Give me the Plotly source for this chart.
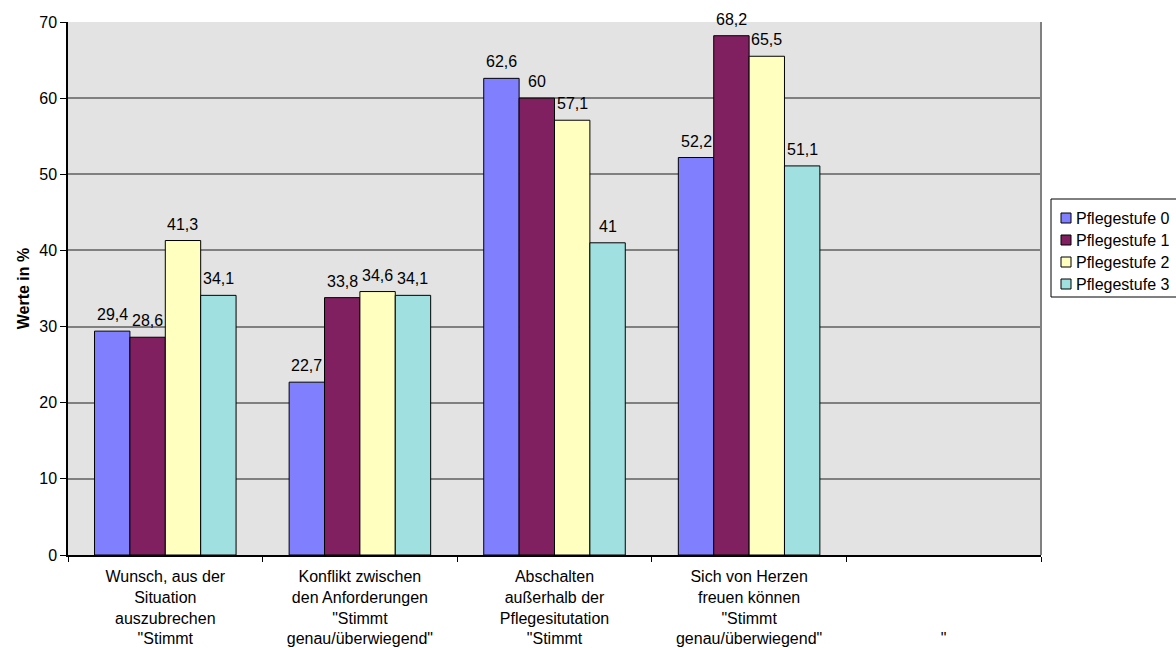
import plotly.graph_objects as go

# Survey categories (label lines as printed under the axis)
categories = ["Wunsch", "Konflikt", "Abschalten", "Herzen", "Leer"]
category_labels = [
    "Wunsch, aus der<br>Situation<br>auszubrechen<br>\"Stimmt",
    "Konflikt zwischen<br>den Anforderungen<br>\"Stimmt<br>genau/überwiegend\"",
    "Abschalten<br>außerhalb der<br>Pflegesitutation<br>\"Stimmt",
    "Sich von Herzen<br>freuen können<br>\"Stimmt<br>genau/überwiegend\"",
    "\u00a0<br>\u00a0<br>\u00a0<br>\"",
]

series_names = ["Pflegestufe 0", "Pflegestufe 1", "Pflegestufe 2", "Pflegestufe 3"]
pflegestufe_0 = [29.4, 22.7, 62.6, 52.2, None]
pflegestufe_1 = [28.6, 33.8, 60.0, 68.2, None]
pflegestufe_2 = [41.3, 34.6, 57.1, 65.5, None]
pflegestufe_3 = [34.1, 34.1, 41.0, 51.1, None]
series_values = [pflegestufe_0, pflegestufe_1, pflegestufe_2, pflegestufe_3]

y_ticks = [0, 10, 20, 30, 40, 50, 60, 70]

colors = ["#8080FF", "#802060", "#FFFFC0", "#A0E0E0"]
FONT = "Arial, Liberation Sans, sans-serif"

W, H = 1176, 648
M_L, M_R, M_T, M_B = 68, 135, 22, 93
PW, PH = W - M_L - M_R, H - M_T - M_B
BARGAP = 0.2727
BAR_PX = PW / len(categories) * (1 - BARGAP) / len(series_names)


def paper_x(px):
    return (px - M_L) / PW


def paper_y(py):
    return (H - M_B - py) / PH


def fmt(v):
    s = f"{v:.1f}".replace(".", ",")
    return s[:-2] if s.endswith(",0") else s


fig = go.Figure()
annotations = []
for i, (name, vals, col) in enumerate(zip(series_names, series_values, colors)):
    fig.add_trace(go.Bar(
        x=categories, y=vals, name=name,
        marker=dict(color=col, line=dict(color="black", width=1)),
        showlegend=False, hoverinfo="x+y+name",
    ))
    # value labels above each bar
    for cat, v in zip(categories, vals):
        if v is None:
            continue
        annotations.append(dict(
            x=cat, y=v, xref="x", yref="y", text=fmt(v), showarrow=False,
            xanchor="center", yanchor="bottom",
            xshift=(i - (len(series_names) - 1) / 2) * BAR_PX, yshift=6,
            font=dict(family=FONT, size=16, color="black"),
        ))

# Legend box drawn as a frame with colour swatches and names
shapes = [
    dict(type="rect", xref="paper", yref="paper",
         x0=paper_x(1051), x1=paper_x(1200), y0=paper_y(297), y1=paper_y(199),
         line=dict(color="black", width=1), fillcolor="white", layer="above"),
    # right border of the plot area
    dict(type="line", xref="paper", yref="paper", x0=1, x1=1, y0=0, y1=1,
         line=dict(color="#808080", width=2), layer="below"),
]
for i, (name, col) in enumerate(zip(series_names, colors)):
    cy = 218 + 22 * i
    shapes.append(dict(type="rect", xref="paper", yref="paper",
                       x0=paper_x(1061), x1=paper_x(1071),
                       y0=paper_y(cy + 5), y1=paper_y(cy - 5),
                       line=dict(color="black", width=1), fillcolor=col,
                       layer="above"))
    annotations.append(dict(xref="paper", yref="paper", x=paper_x(1074),
                            y=paper_y(cy), xanchor="left", yanchor="middle",
                            text=name, showarrow=False,
                            font=dict(family=FONT, size=16, color="black")))

fig.update_layout(
    template="none",
    width=W, height=H,
    margin=dict(l=M_L, r=M_R, t=M_T, b=M_B, pad=0),
    paper_bgcolor="white",
    plot_bgcolor="#E3E3E3",
    barmode="group", bargap=BARGAP, bargroupgap=0,
    separators=",.",
    font=dict(family=FONT, size=16, color="black"),
    shapes=shapes,
    annotations=annotations,
    showlegend=False,
    xaxis=dict(
        type="category",
        tickmode="array", tickvals=categories, ticktext=category_labels,
        tickson="boundaries", ticks="outside", ticklen=5, tickcolor="black",
        showline=True, linecolor="black", linewidth=1.5,
        showgrid=False, automargin=False,
        tickfont=dict(family=FONT, size=16, color="black"),
        ticklabelstandoff=6,
    ),
    yaxis=dict(
        range=[0, 70], tickvals=y_ticks, ticks="outside", ticklen=6,
        tickcolor="black", showline=True, linecolor="black", linewidth=1.5,
        showgrid=True, gridcolor="#808080", gridwidth=1.5,
        zeroline=False, automargin=False,
        tickfont=dict(family=FONT, size=16, color="black"),
        title=dict(text="<b>Werte in %</b>", standoff=6,
                   font=dict(family=FONT, size=16, color="black")),
    ),
)

fig.write_html("out.html")
